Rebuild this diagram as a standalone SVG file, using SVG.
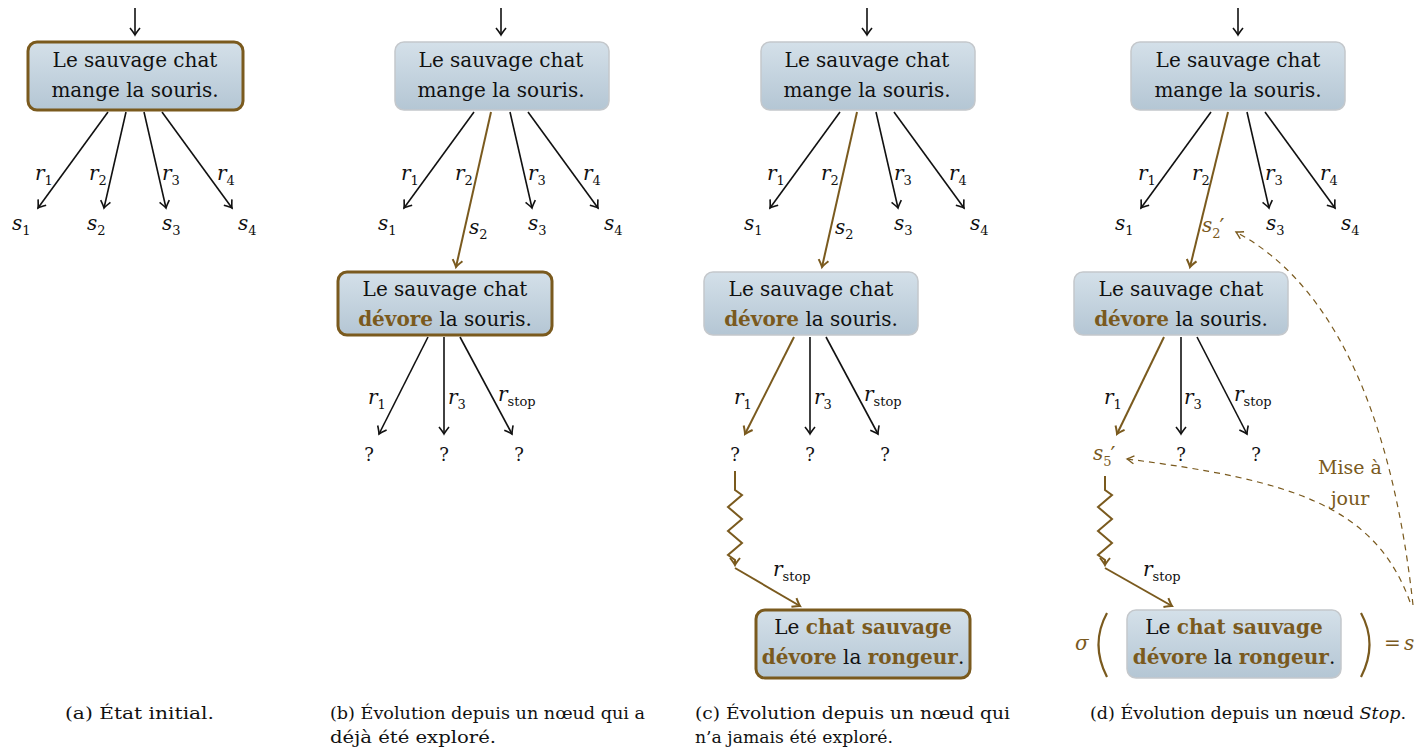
<svg xmlns="http://www.w3.org/2000/svg" width="1417" height="754" viewBox="0 0 1417 754">
<style>
text{font-family:"DejaVu Serif","Liberation Serif",serif;fill:#111}
.bt{font-size:20px;text-anchor:middle}
.b{fill:#7a5a1e;font-weight:bold}
.m{font-size:20px;font-style:italic}
.sub{font-size:13px;font-style:normal}
.pr{font-size:22px;font-style:normal;font-family:"DejaVu Sans",sans-serif}
.q{font-size:18px;text-anchor:middle}
.cap{font-size:16px}
.br{fill:#7a5a1e}
.k{stroke:#111;stroke-width:1.6;fill:none;marker-end:url(#ak)}
.w{stroke:#7a5a1e;stroke-width:2;fill:none;marker-end:url(#aw)}
.d{stroke:#7a5a1e;stroke-width:1.2;fill:none;stroke-dasharray:6 5;marker-end:url(#ad)}
.box{fill:url(#g);stroke:#c4c8cc;stroke-width:1.5}
.hb{fill:url(#g);stroke:#7a5a1e;stroke-width:3}
</style>
<defs>
<linearGradient id="g" x1="0" y1="0" x2="0" y2="1"><stop offset="0" stop-color="#d4e0e9"/><stop offset="1" stop-color="#b4c6d4"/></linearGradient>
<marker id="ak" markerUnits="userSpaceOnUse" markerWidth="14" markerHeight="14" viewBox="-10 -7 12 14" refX="0" refY="0" orient="auto"><path d="M-7,-5 Q-2,-1 0,0 Q-2,1 -7,5" fill="none" stroke="#111" stroke-width="1.6"/></marker>
<marker id="aw" markerUnits="userSpaceOnUse" markerWidth="14" markerHeight="14" viewBox="-10 -7 12 14" refX="0" refY="0" orient="auto"><path d="M-7,-5 Q-2,-1 0,0 Q-2,1 -7,5" fill="none" stroke="#7a5a1e" stroke-width="2"/></marker>
<marker id="ad" markerUnits="userSpaceOnUse" markerWidth="14" markerHeight="14" viewBox="-10 -7 12 14" refX="0" refY="0" orient="auto"><path d="M-7,-4 Q-2,-1 0,0 Q-2,1 -7,4" fill="none" stroke="#7a5a1e" stroke-width="1.3"/></marker>
</defs>

<g id="connectors">
<path class="k" d="M135,8 V35"/>
<path class="k" d="M108,112 L38,208"/>
<path class="k" d="M126,112 L104,208"/>
<path class="k" d="M144,112 L166,208"/>
<path class="k" d="M162,112 L232,208"/>
<path class="k" d="M501,8 V35"/>
<path class="k" d="M474,112 L404,208"/>
<path class="w" d="M491,112 L456,267"/>
<path class="k" d="M510,112 L532,208"/>
<path class="k" d="M528,112 L598,208"/>
<path class="k" d="M428,337 L379,434"/>
<path class="k" d="M444,337 L444,434"/>
<path class="k" d="M460,337 L512,434"/>
<path class="k" d="M867,8 V35"/>
<path class="k" d="M840,112 L770,208"/>
<path class="w" d="M857,112 L822,267"/>
<path class="k" d="M876,112 L898,208"/>
<path class="k" d="M894,112 L964,208"/>
<path class="w" d="M794,337 L745,434"/>
<path class="k" d="M810,337 L810,434"/>
<path class="k" d="M826,337 L878,434"/>
<path class="w" d="M735,471 V490 L742,495 L728,507 L742,519 L728,531 L742,543 L728,555 L735,560 V565"/>
<path class="w" d="M735,568 L800,606"/>
<path class="k" d="M1238,8 V35"/>
<path class="k" d="M1211,112 L1141,208"/>
<path class="w" d="M1228,112 L1190,267"/>
<path class="k" d="M1247,112 L1269,208"/>
<path class="k" d="M1265,112 L1335,208"/>
<path class="w" d="M1164,337 L1117,434"/>
<path class="k" d="M1181,337 L1181,434"/>
<path class="k" d="M1197,337 L1247,434"/>
<path class="w" d="M1105,476 V490 L1112,495 L1098,507 L1112,519 L1098,531 L1112,543 L1098,555 L1105,560 V565"/>
<path class="w" d="M1105,568 L1172,606"/>
<path class="d" d="M1413,605 C1395,440 1345,290 1236,232"/>
<path class="d" d="M1410,602 C1375,505 1290,480 1127,459"/>
</g>

<g id="a1"><rect class="hb" x="28" y="42" width="215" height="68" rx="9"/>
<text class="bt" x="135" y="67">Le sauvage chat</text><text class="bt" x="135" y="97">mange la souris.</text></g>
<g id="a-labels">
<text class="m" x="35" y="180">r<tspan class="sub" dy="5">1</tspan></text>
<text class="m" x="89" y="180">r<tspan class="sub" dy="5">2</tspan></text>
<text class="m" x="162" y="180">r<tspan class="sub" dy="5">3</tspan></text>
<text class="m" x="217" y="180">r<tspan class="sub" dy="5">4</tspan></text>
<text class="m" x="12" y="230">s<tspan class="sub" dy="5">1</tspan></text>
<text class="m" x="87" y="230">s<tspan class="sub" dy="5">2</tspan></text>
<text class="m" x="162" y="230">s<tspan class="sub" dy="5">3</tspan></text>
<text class="m" x="238" y="230">s<tspan class="sub" dy="5">4</tspan></text>
</g>

<g id="b1"><rect class="box" x="395" y="42" width="214" height="68" rx="9"/>
<text class="bt" x="501" y="67">Le sauvage chat</text><text class="bt" x="501" y="97">mange la souris.</text></g>
<g id="b2"><rect class="hb" x="338" y="272" width="214" height="63" rx="9"/>
<text class="bt" x="445" y="296">Le sauvage chat</text><text class="bt" x="445" y="326"><tspan class="b">dévore</tspan> la souris.</text></g>
<g id="b-labels">
<text class="m" x="401" y="180">r<tspan class="sub" dy="5">1</tspan></text>
<text class="m" x="455" y="180">r<tspan class="sub" dy="5">2</tspan></text>
<text class="m" x="528" y="180">r<tspan class="sub" dy="5">3</tspan></text>
<text class="m" x="583" y="180">r<tspan class="sub" dy="5">4</tspan></text>
<text class="m" x="378" y="230">s<tspan class="sub" dy="5">1</tspan></text>
<text class="m" x="469" y="234">s<tspan class="sub" dy="5">2</tspan></text>
<text class="m" x="528" y="230">s<tspan class="sub" dy="5">3</tspan></text>
<text class="m" x="604" y="230">s<tspan class="sub" dy="5">4</tspan></text>
<text class="m" x="368" y="404">r<tspan class="sub" dy="5">1</tspan></text>
<text class="m" x="448" y="404">r<tspan class="sub" dy="5">3</tspan></text>
<text class="m" x="498" y="401">r<tspan class="sub" dy="5">stop</tspan></text>
<text class="q" x="369" y="461">?</text><text class="q" x="444" y="461">?</text><text class="q" x="519" y="461">?</text>
</g>

<g id="c1"><rect class="box" x="761" y="42" width="214" height="68" rx="9"/>
<text class="bt" x="867" y="67">Le sauvage chat</text><text class="bt" x="867" y="97">mange la souris.</text></g>
<g id="c2"><rect class="box" x="704" y="272" width="214" height="63" rx="9"/>
<text class="bt" x="811" y="296">Le sauvage chat</text><text class="bt" x="811" y="326"><tspan class="b">dévore</tspan> la souris.</text></g>
<g id="c3"><rect class="hb" x="756" y="610" width="214" height="68" rx="9"/>
<text class="bt" x="863" y="634">Le <tspan class="b">chat sauvage</tspan></text><text class="bt" x="863" y="664"><tspan class="b">dévore</tspan> la <tspan class="b">rongeur</tspan>.</text></g>
<g id="c-labels">
<text class="m" x="767" y="180">r<tspan class="sub" dy="5">1</tspan></text>
<text class="m" x="821" y="180">r<tspan class="sub" dy="5">2</tspan></text>
<text class="m" x="894" y="180">r<tspan class="sub" dy="5">3</tspan></text>
<text class="m" x="949" y="180">r<tspan class="sub" dy="5">4</tspan></text>
<text class="m" x="744" y="230">s<tspan class="sub" dy="5">1</tspan></text>
<text class="m" x="835" y="234">s<tspan class="sub" dy="5">2</tspan></text>
<text class="m" x="894" y="230">s<tspan class="sub" dy="5">3</tspan></text>
<text class="m" x="970" y="230">s<tspan class="sub" dy="5">4</tspan></text>
<text class="m" x="734" y="404">r<tspan class="sub" dy="5">1</tspan></text>
<text class="m" x="814" y="404">r<tspan class="sub" dy="5">3</tspan></text>
<text class="m" x="864" y="401">r<tspan class="sub" dy="5">stop</tspan></text>
<text class="q" x="735" y="461">?</text><text class="q" x="810" y="461">?</text><text class="q" x="885" y="461">?</text>
<text class="m" x="773" y="576">r<tspan class="sub" dy="5">stop</tspan></text>
</g>

<g id="d1"><rect class="box" x="1131" y="42" width="214" height="68" rx="9"/>
<text class="bt" x="1238" y="67">Le sauvage chat</text><text class="bt" x="1238" y="97">mange la souris.</text></g>
<g id="d2"><rect class="box" x="1074" y="272" width="214" height="63" rx="9"/>
<text class="bt" x="1181" y="296">Le sauvage chat</text><text class="bt" x="1181" y="326"><tspan class="b">dévore</tspan> la souris.</text></g>
<g id="d3"><rect class="box" x="1127" y="610" width="214" height="68" rx="9"/>
<text class="bt" x="1234" y="634">Le <tspan class="b">chat sauvage</tspan></text><text class="bt" x="1234" y="664"><tspan class="b">dévore</tspan> la <tspan class="b">rongeur</tspan>.</text></g>
<g id="d-labels">
<text class="m" x="1138" y="180">r<tspan class="sub" dy="5">1</tspan></text>
<text class="m" x="1192" y="180">r<tspan class="sub" dy="5">2</tspan></text>
<text class="m" x="1265" y="180">r<tspan class="sub" dy="5">3</tspan></text>
<text class="m" x="1320" y="180">r<tspan class="sub" dy="5">4</tspan></text>
<text class="m" x="1115" y="230">s<tspan class="sub" dy="5">1</tspan></text>
<text class="m br" x="1202" y="232">s<tspan class="sub br" dy="6">2</tspan><tspan class="pr br" dx="-1" dy="-4">′</tspan></text>
<text class="m" x="1266" y="230">s<tspan class="sub" dy="5">3</tspan></text>
<text class="m" x="1341" y="230">s<tspan class="sub" dy="5">4</tspan></text>
<text class="m" x="1104" y="404">r<tspan class="sub" dy="5">1</tspan></text>
<text class="m" x="1184" y="404">r<tspan class="sub" dy="5">3</tspan></text>
<text class="m" x="1234" y="401">r<tspan class="sub" dy="5">stop</tspan></text>
<text class="m br" x="1093" y="460">s<tspan class="sub br" dy="6">5</tspan><tspan class="pr br" dx="-1" dy="-4">′</tspan></text>
<text class="q" x="1181" y="461">?</text><text class="q" x="1256" y="461">?</text>
<text class="m" x="1143" y="576">r<tspan class="sub" dy="5">stop</tspan></text>
<text class="br" x="1350" y="474" style="font-size:19px;text-anchor:middle">Mise à</text>
<text class="br" x="1350" y="505" style="font-size:19px;text-anchor:middle">jour</text>
<text class="m br" x="1075" y="650">σ</text>
<path d="M1107,613 Q1090,644 1107,677" fill="none" stroke="#7a5a1e" stroke-width="2.2"/>
<path d="M1361,613 Q1378,644 1361,677" fill="none" stroke="#7a5a1e" stroke-width="2.2"/>
<text class="br" x="1384" y="650" style="font-size:20px">=</text>
<text class="m br" x="1404" y="650">s</text>
</g>

<g id="captions">
<text class="cap" x="65" y="719" textLength="149" lengthAdjust="spacingAndGlyphs">(a) État initial.</text>
<text class="cap" x="330" y="719" textLength="315" lengthAdjust="spacingAndGlyphs">(b) Évolution depuis un nœud qui a</text>
<text class="cap" x="330" y="743" textLength="166" lengthAdjust="spacingAndGlyphs">déjà été exploré.</text>
<text class="cap" x="695" y="719" textLength="315" lengthAdjust="spacingAndGlyphs">(c) Évolution depuis un nœud qui</text>
<text class="cap" x="695" y="743" textLength="198" lengthAdjust="spacingAndGlyphs">n’a jamais été exploré.</text>
<text class="cap" x="1090" y="719" textLength="316" lengthAdjust="spacingAndGlyphs">(d) Évolution depuis un nœud <tspan font-style="italic">Stop</tspan>.</text>
</g>
</svg>
